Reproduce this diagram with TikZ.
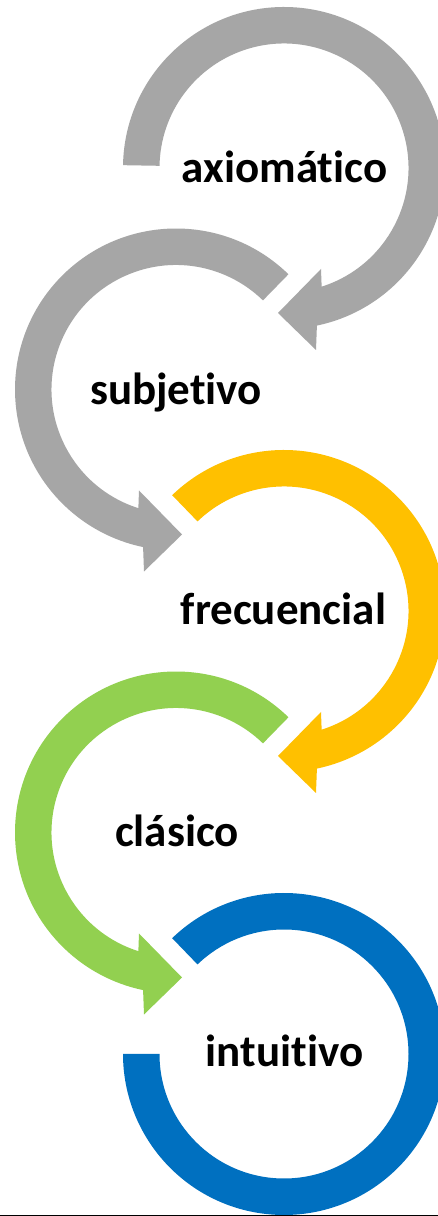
\documentclass[tikz,border=0pt]{standalone}
\usepackage{fontspec}
\setmainfont{Carlito}[Ligatures={NoCommon}]
\definecolor{ringgray}{HTML}{A6A6A6}
\definecolor{ringyellow}{HTML}{FFC000}
\definecolor{ringgreen}{HTML}{92D050}
\definecolor{ringblue}{HTML}{0070C0}
\definecolor{baseline}{RGB}{127,143,160}
\tikzset{
  % circular arrow: outer/inner arc from the start angle, arrowhead at the bottom
  pics/ringarrow/.style args={#1/#2}{code={
    \fill[#2] (#1:161) arc[start angle=#1, end angle=-78.2, radius=161]
      -- (32,-182) -- (-6,-145) -- (37,-101)
      -- (-72.4:124.5) arc[start angle=-72.4, end angle=#1, radius=124.5] -- cycle;
  }},
  lbl/.style={font=\bfseries\fontsize{45}{50}\selectfont, text=black, inner sep=0pt, anchor=base}
}
\begin{document}
\begin{tikzpicture}[x=1pt, y=1pt]
  \clip (0,0) rectangle (438,1216);
  \fill[white] (0,0) rectangle (438,1216);

  \coordinate (c1) at (284,1048);
  \coordinate (c2) at (176,826.5);
  \coordinate (c3) at (284,605);
  \coordinate (c4) at (176,383.5);
  \coordinate (c5) at (284,162);

  \pic at (c1) {ringarrow={179/ringgray}};
  \pic[xscale=-1] at (c2) {ringarrow={134.3/ringgray}};
  \pic at (c3) {ringarrow={134/ringyellow}};
  \pic[xscale=-1] at (c4) {ringarrow={134.3/ringgreen}};

  % closing ring without arrowhead
  \begin{scope}[shift={(c5)}]
    \fill[ringblue] (134:161) arc[start angle=134, end angle=-180, radius=161]
      -- (180:124.5) arc[start angle=-180, end angle=134, radius=124.5] -- cycle;
  \end{scope}

  \node[lbl] (t1) at (284.5,1033) {axiomático};
  \node[lbl] (t2) at (176,811) {subjetivo};
  \node[lbl] (t3) at (283.5,591) {frecuencial};
  \node[lbl] (t4) at (177,369) {clásico};
  \node[lbl] (t5) at (284.5,149) {intuitivo};

  \draw[baseline, line width=0.8pt] (0,1) -- (438,1);
\end{tikzpicture}
\end{document}
